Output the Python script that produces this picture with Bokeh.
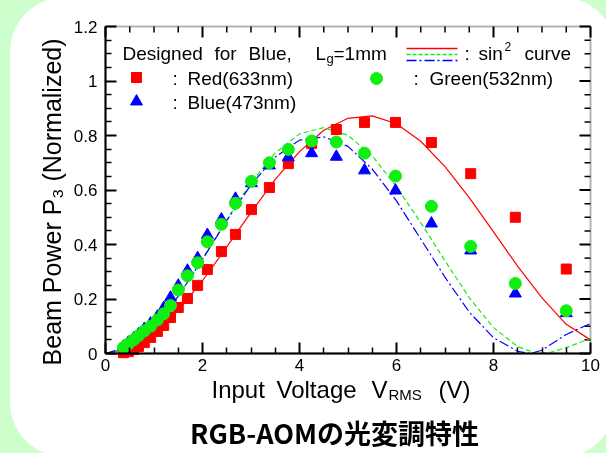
import math
from bokeh.plotting import figure
from bokeh.models import LinearAxis, Label, Range1d, FixedTicker, BoxAnnotation
from bokeh.embed import file_html
from bokeh.resources import INLINE

# ---------------- data ----------------
voltage = [0.37, 0.47, 0.58, 0.68, 0.80, 0.93, 1.07, 1.20, 1.34, 1.50, 1.69, 1.90, 2.10,
           2.39, 2.68, 3.01, 3.38, 3.77, 4.25, 4.76, 5.34, 5.98, 6.72, 7.53, 8.45, 9.50]
red_power = [0.003, 0.007, 0.015, 0.026, 0.040, 0.059, 0.081, 0.103, 0.132, 0.169, 0.202, 0.250, 0.308,
             0.374, 0.437, 0.528, 0.609, 0.697, 0.771, 0.822, 0.848, 0.848, 0.774, 0.660, 0.500, 0.310]
blue_power = [0.025, 0.040, 0.055, 0.070, 0.090, 0.110, 0.135, 0.167, 0.205, 0.249, 0.304, 0.350, 0.435,
              0.492, 0.568, 0.625, 0.690, 0.720, 0.735, 0.722, 0.672, 0.598, 0.477, 0.378, 0.220, 0.148]
green_power = [0.022, 0.035, 0.050, 0.065, 0.083, 0.100, 0.123, 0.146, 0.176, 0.233, 0.285, 0.333, 0.410,
               0.474, 0.551, 0.632, 0.700, 0.749, 0.780, 0.776, 0.735, 0.651, 0.540, 0.393, 0.257, 0.157]

red_curve_v = [0, 0.5, 1, 1.5, 2, 2.5, 3, 3.5, 4, 4.5, 5, 5.5, 6, 6.5, 7, 7.5, 8, 8.5, 9, 9.5, 10]
red_curve_p = [0, 0.019, 0.073, 0.158, 0.267, 0.391, 0.518, 0.639, 0.741, 0.819, 0.863, 0.872, 0.843,
               0.779, 0.686, 0.572, 0.446, 0.320, 0.204, 0.107, 0.050]
green_curve_v = [0, 0.5, 1, 1.5, 2, 2.5, 3, 3.5, 4, 4.5, 5, 5.5, 6, 6.5, 7, 7.5, 8, 8.5, 8.9, 9.2, 9.5, 10]
green_curve_p = [0, 0.025, 0.098, 0.210, 0.346, 0.491, 0.627, 0.736, 0.806, 0.829, 0.801, 0.725, 0.612,
                 0.480, 0.340, 0.205, 0.095, 0.025, 0.0, 0.005, 0.022, 0.055]
blue_curve_v = [0, 0.5, 1, 1.5, 2, 2.5, 3, 3.5, 4, 4.5, 5, 5.5, 6, 6.5, 7, 7.5, 8, 8.5, 8.75, 9, 9.5, 10]
blue_curve_p = [0, 0.026, 0.099, 0.210, 0.346, 0.488, 0.619, 0.721, 0.783, 0.795, 0.760, 0.677, 0.560,
                0.420, 0.280, 0.152, 0.058, 0.008, 0.0, 0.012, 0.070, 0.110]

x_tick_values = [0, 2, 4, 6, 8, 10]
x_tick_labels = ["0", "2", "4", "6", "8", "10"]
y_tick_values = [0, 0.2, 0.4, 0.6, 0.8, 1.0, 1.2]
y_tick_labels = ["0", "0.2", "0.4", "0.6", "0.8", "1", "1.2"]
x_minor_values = [0.5, 1, 1.5, 2.5, 3, 3.5, 4.5, 5, 5.5, 6.5, 7, 7.5, 8.5, 9, 9.5]
y_minor_values = [0.05, 0.1, 0.15, 0.25, 0.3, 0.35, 0.45, 0.5, 0.55, 0.65, 0.7, 0.75,
                  0.85, 0.9, 0.95, 1.05, 1.1, 1.15]

RED, GREEN, BLUE = "#ff0000", "#11ee11", "#0000ff"
FONT = "Liberation Sans"

# ---------------- layout (page pixels) ----------------
W, H = 600, 453
CL, CR, CT, CB = 105, 590, 26, 353   # plot box edges
SX = (CR - CL) / 10.0
SY = (CB - CT) / 1.2


def dx(X):
    return (X - CL) / SX


def dy(Y):
    return (CB - Y) / SY


p = figure(width=W, height=H, output_backend="svg", toolbar_location=None,
           x_range=Range1d(dx(0), dx(W)), y_range=Range1d(dy(H), dy(0)),
           x_axis_location=None, y_axis_location=None,
           min_border=0, min_border_left=0, min_border_right=0, min_border_top=0, min_border_bottom=0,
           border_fill_color=None, background_fill_color=None, outline_line_color=None)
p.xgrid.visible = False
p.ygrid.visible = False

xax = LinearAxis(ticker=FixedTicker(ticks=x_tick_values, minor_ticks=x_minor_values),
                 major_label_overrides=dict(zip(x_tick_values, x_tick_labels)),
                 fixed_location=0, bounds=(0, 10))
yax = LinearAxis(ticker=FixedTicker(ticks=y_tick_values, minor_ticks=y_minor_values),
                 major_label_overrides=dict(zip(y_tick_values, y_tick_labels)),
                 fixed_location=0, bounds=(0, 1.2))
p.add_layout(xax, "below")
p.add_layout(yax, "left")
for ax in [xax, yax]:
    ax.major_tick_in = 11
    ax.major_tick_out = 0
    ax.minor_tick_in = 6
    ax.minor_tick_out = 0
    ax.major_tick_line_width = 2
    ax.minor_tick_line_width = 1.5
    ax.axis_line_width = 2
    ax.axis_line_color = "black"
    ax.major_tick_line_color = "black"
    ax.minor_tick_line_color = "black"
    ax.major_label_text_font = FONT
    ax.major_label_text_font_size = "17px"
    ax.major_label_text_color = "black"
xax.major_label_standoff = 5
yax.major_label_standoff = 8

# plot box
p.add_layout(BoxAnnotation(left=0, right=10, bottom=0, top=1.2, fill_color=None,
                           line_color="black", line_width=2))

# ticks on the top and right edges of the box
MAJ, MIN = 11, 6
p.segment(x0=x_tick_values, x1=x_tick_values, y0=[1.2] * len(x_tick_values),
          y1=[1.2 - MAJ / SY] * len(x_tick_values), line_color="black", line_width=2)
p.segment(x0=x_minor_values, x1=x_minor_values, y0=[1.2] * len(x_minor_values),
          y1=[1.2 - MIN / SY] * len(x_minor_values), line_color="black", line_width=1.5)
p.segment(x0=[10] * len(y_tick_values), x1=[10 - MAJ / SX] * len(y_tick_values),
          y0=y_tick_values, y1=y_tick_values, line_color="black", line_width=2)
p.segment(x0=[10] * len(y_minor_values), x1=[10 - MIN / SX] * len(y_minor_values),
          y0=y_minor_values, y1=y_minor_values, line_color="black", line_width=1.5)

# ---------------- curves & points ----------------
p.line(red_curve_v, red_curve_p, line_color=RED, line_width=1.2)
p.line(green_curve_v, green_curve_p, line_color=GREEN, line_width=1.2, line_dash="5 3")
p.line(blue_curve_v, blue_curve_p, line_color=BLUE, line_width=1.2, line_dash="10 3 2 3")

p.scatter(voltage, red_power, marker="square", size=10, fill_color=RED, line_color=RED)
p.scatter(voltage, blue_power, marker="triangle", size=12, fill_color=BLUE, line_color=BLUE)
p.scatter(voltage, green_power, marker="circle", size=12, fill_color=GREEN, line_color=GREEN)


# ---------------- texts (Y = vertical centre of the text as rendered) ----------------
def lab(text, X, Y, size, align="left", baseline="alphabetic", bold=False, font=FONT, angle=0.0):
    p.add_layout(Label(x=dx(X), y=dy(Y), text=text,
                       text_font_size=f"{size}px", text_font=font, text_align=align,
                       text_baseline=baseline, text_font_style="bold" if bold else "normal",
                       angle=angle, text_color="black"))


LEG = 19
R1, R2, R3 = 53, 78, 102
# row 1
lab("Designed", 122, R1, LEG)
lab("for", 214, R1, LEG)
lab("Blue,", 248, R1, LEG)
lab("L", 315, R1, LEG)
lab("g", 326, R1 + 5, 13)
lab("=1mm", 333, R1, LEG)
lab(":", 464, R1, LEG)
lab("sin", 478, R1, LEG)
lab("2", 504, R1 - 7, 12)
lab("curve", 524, R1, LEG)
p.line([dx(406), dx(457)], [dy(48), dy(48)], line_color=RED, line_width=1.5)
p.line([dx(406), dx(457)], [dy(54), dy(54)], line_color=GREEN, line_width=1.5, line_dash="4 2")
p.line([dx(406), dx(457)], [dy(60), dy(60)], line_color=BLUE, line_width=1.5, line_dash="10 3 2 3")
# rows 2/3
p.scatter([dx(136)], [dy(77)], marker="square", size=10, fill_color=RED, line_color=RED)
lab(":", 172, R2, LEG)
lab("Red(633nm)", 187, R2, LEG)
p.scatter([dx(376)], [dy(78)], marker="circle", size=12, fill_color=GREEN, line_color=GREEN)
lab(":", 413, R2, LEG)
lab("Green(532nm)", 429, R2, LEG)
p.scatter([dx(136)], [dy(101)], marker="triangle", size=12, fill_color=BLUE, line_color=BLUE)
lab(":", 172, R3, LEG)
lab("Blue(473nm)", 187, R3, LEG)

# axis titles
lab("Beam  Power  P\u2083  (Normalized)", 51, 191, 25, align="center", baseline="middle", angle=math.pi / 2)
AX = 24
XL = 389
lab("Input", 211, XL, AX)
lab("Voltage", 276, XL, AX)
lab("V", 371, XL, AX)
lab("RMS", 388, XL + 5, 15)
lab("(V)", 438, XL, AX)

# caption
lab("RGB-AOMの光変調特性", 334, 432, 27, align="center", bold=True, font="Noto Sans CJK JP")

template = """{% block postamble %}
<style>
html { background-color: #ffffff; }
body::before { content: ""; position: fixed; left: 10px; top: -3px; width: 606px; height: 460px;
  border-radius: 55px; box-shadow: 0 0 0 300px #ccffcc; z-index: -1; pointer-events: none; }
</style>
{% endblock %}"""

open("out.html", "w").write(file_html(p, INLINE, template=template))
